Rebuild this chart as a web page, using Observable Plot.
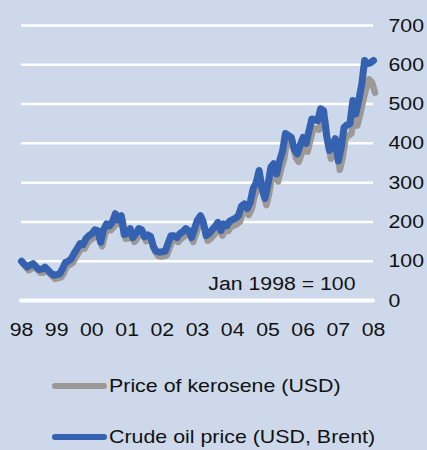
<!DOCTYPE html>
<html>
<head>
<meta charset="utf-8">
<script src="https://cdn.jsdelivr.net/npm/d3@7"></script>
<script src="https://cdn.jsdelivr.net/npm/@observablehq/plot@0.6"></script>
<style>
  html, body { margin: 0; padding: 0; background: #cdd9ea; }
  #wrap { position: relative; width: 427px; height: 450px; background: #cdd9ea; overflow: hidden;
          font-family: "Liberation Sans", Arial, sans-serif; color: #111; }
  #chart { position: absolute; left: 0; top: 0; }
  .leg { position: absolute; left: 52px; display: flex; align-items: center; font-size: 19px; white-space: nowrap; }
  .leg span { display: inline-block; transform: scaleX(1.125); transform-origin: left center; }
  .sw { width: 55px; height: 6px; border-radius: 3px; margin-right: 2px; }
</style>
</head>
<body>
<div id="wrap">
  <div id="chart"></div>
  <div class="leg" style="top:375px"><div class="sw" style="background:#9b9895"></div><span>Price of kerosene (USD)</span></div>
  <div class="leg" style="top:426px"><div class="sw" style="background:#3462b0"></div><span>Crude oil price (USD, Brent)</span></div>
</div>
<script>
// Monthly index values, Jan 1998 = 100, from Jan 1998 to Jan 2008
const startYear = 1998;
const crudeIndex = [
  100, 92, 85, 90, 94, 86, 79, 80, 85, 78, 70, 64,          // 1998
  66, 68, 80, 97, 100, 106, 120, 132, 145, 142, 158, 165,   // 1999
  170, 180, 178, 148, 180, 195, 190, 200, 221, 205, 216, 168, // 2000
  170, 183, 160, 170, 183, 180, 162, 167, 163, 136, 125, 123, // 2001
  124, 126, 145, 165, 165, 160, 170, 175, 183, 178, 160, 183, // 2002
  205, 216, 200, 165, 170, 180, 188, 199, 178, 195, 190, 202, // 2003
  206, 210, 216, 240, 246, 234, 250, 285, 300, 331, 285, 260, // 2004
  295, 340, 348, 322, 355, 380, 425, 420, 415, 385, 373, 395, // 2005
  415, 400, 430, 462, 460, 458, 488, 483, 420, 382, 395, 412, // 2006
  355, 390, 440, 447, 450, 509, 475, 510, 550, 611, 603, 605, // 2007
  611                                                        // 2008
];
const keroseneIndex = [
  100, 90, 82, 86, 90, 83, 76, 76, 81, 75, 67, 60,
  62, 64, 75, 92, 96, 101, 114, 127, 139, 137, 152, 159,
  164, 173, 172, 143, 173, 188, 184, 193, 213, 199, 209, 162,
  163, 176, 154, 163, 176, 174, 156, 160, 157, 130, 119, 117,
  118, 120, 139, 158, 158, 154, 163, 168, 176, 171, 154, 175,
  197, 207, 191, 157, 162, 171, 179, 190, 170, 186, 182, 193,
  196, 200, 206, 229, 235, 223, 238, 272, 287, 316, 272, 248,
  282, 326, 333, 308, 340, 364, 408, 404, 399, 369, 358, 379,
  398, 384, 413, 444, 442, 440, 469, 465, 403, 366, 378, 395,
  338, 370, 418, 425, 430, 480, 450, 480, 515, 545, 568, 560,
  534
];
const yearLabels = ["98","99","00","01","02","03","04","05","06","07","08"];
const yTicks = [0, 100, 200, 300, 400, 500, 600, 700];
const note = "Jan 1998 = 100";

const toDate = i => new Date(Date.UTC(startYear + Math.floor(i / 12), i % 12, 1));
const crude = crudeIndex.map((v, i) => ({date: toDate(i), value: v}));
const kero = keroseneIndex.map((v, i) => ({date: toDate(i), value: v}));
const yearDates = yearLabels.map((s, i) => new Date(Date.UTC(startYear + i, 0, 1)));

const plot = Plot.plot({
  width: 427,
  height: 355,
  marginLeft: 21,
  marginRight: 54,
  marginTop: 25,
  marginBottom: 55,
  style: {background: "transparent", fontFamily: "Liberation Sans, Arial, sans-serif", color: "#111"},
  x: {type: "utc", domain: [yearDates[0], yearDates[yearDates.length - 1]], label: null},
  y: {domain: [0, 700], label: null},
  marks: [
    Plot.gridY(yTicks.slice(1), {stroke: "white", strokeOpacity: 1, strokeWidth: 2.5}),
    Plot.ruleY([0], {stroke: "white", strokeWidth: 4, strokeLinecap: "round"}),
    Plot.axisY(yTicks, {anchor: "right", tickSize: 0, tickPadding: 15, fontSize: 19, textAnchor: "start", label: null}),
    Plot.axisX(yearDates, {anchor: "bottom", tickSize: 0, tickPadding: 22, fontSize: 19, label: null, tickFormat: (d, i) => yearLabels[i]}),
    Plot.text([note], {frameAnchor: "bottom-right", dx: -18, dy: -11, fontSize: 19, textAnchor: "end", fill: "#111"}),
    Plot.line(kero, {x: "date", y: "value", stroke: "#9b9895", strokeWidth: 6.5, strokeLinejoin: "round", strokeLinecap: "round", dx: 1.5, dy: 2}),
    Plot.line(crude, {x: "date", y: "value", stroke: "#3462b0", strokeWidth: 7, strokeLinejoin: "round", strokeLinecap: "round"})
  ]
});
// Widen the text glyphs slightly around their anchor points (reference type is wider)
plot.querySelectorAll("text").forEach(t => {
  const tr = t.getAttribute("transform");
  if (tr && !t.hasAttribute("x")) t.setAttribute("transform", tr + " scale(1.12,1)");
});
document.getElementById("chart").appendChild(plot);
</script>
</body>
</html>
